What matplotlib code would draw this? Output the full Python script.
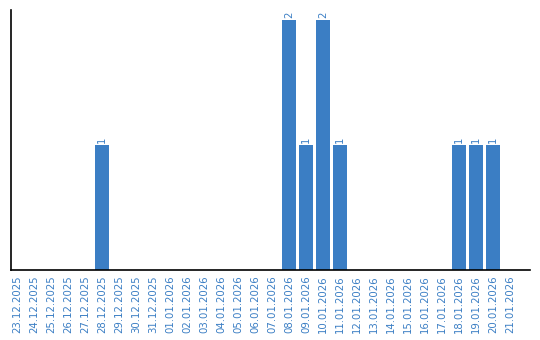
import matplotlib
matplotlib.use("Agg")
import matplotlib.pyplot as plt

dates = ["23.12.2025", "24.12.2025", "25.12.2025", "26.12.2025", "27.12.2025",
         "28.12.2025", "29.12.2025", "30.12.2025", "31.12.2025", "01.01.2026",
         "02.01.2026", "03.01.2026", "04.01.2026", "05.01.2026", "06.01.2026",
         "07.01.2026", "08.01.2026", "09.01.2026", "10.01.2026", "11.01.2026",
         "12.01.2026", "13.01.2026", "14.01.2026", "15.01.2026", "16.01.2026",
         "17.01.2026", "18.01.2026", "19.01.2026", "20.01.2026", "21.01.2026"]
counts = [0, 0, 0, 0, 0, 1, 0, 0, 0, 0,
          0, 0, 0, 0, 0, 0, 2, 1, 2, 1,
          0, 0, 0, 0, 0, 0, 1, 1, 1, 0]

bar_color = "#3b7ec4"
text_color = "#3b7ec4"

fig = plt.figure(figsize=(5.4, 3.4), dpi=100)
ax = fig.add_axes([11/540, 70/340, 519/540, 260/340])
x = list(range(len(dates)))
ax.bar(x, counts, width=0.82, color=bar_color)
for xi, v in zip(x, counts):
    if v > 0:
        ax.text(xi, v + 0.02, str(v), rotation=90, ha="center", va="bottom",
                fontsize=7.3, color=text_color)
ax.set_xlim(-0.353, 30.18)
ax.set_ylim(0, 2.08)
ax.set_xticks(x)
ax.set_xticklabels(dates, rotation=90, fontsize=7.3, color=text_color)
ax.tick_params(axis="x", length=0, pad=4)
ax.set_yticks([])
ax.spines["top"].set_visible(False)
ax.spines["right"].set_visible(False)
ax.spines["left"].set_linewidth(1.2)
ax.spines["bottom"].set_linewidth(1.2)
fig.savefig("out.png", dpi=100)
